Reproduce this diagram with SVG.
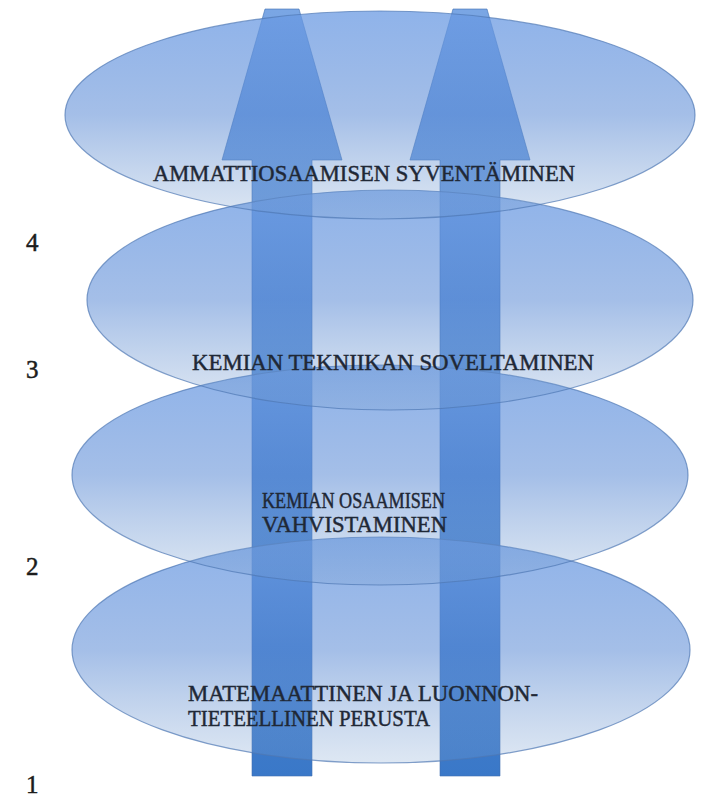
<svg xmlns="http://www.w3.org/2000/svg" width="710" height="797" viewBox="0 0 710 797">
<defs>
<linearGradient id="ellG" x1="0" y1="0" x2="0" y2="1">
<stop offset="0" stop-color="#6a9ae3" stop-opacity="0.75"/>
<stop offset="0.5" stop-color="#5a8ad5" stop-opacity="0.55"/>
<stop offset="1" stop-color="#7aa0d0" stop-opacity="0.25"/>
</linearGradient>
<linearGradient id="arrG" gradientUnits="userSpaceOnUse" x1="0" y1="9" x2="0" y2="776">
<stop offset="0" stop-color="#7aa6e4"/>
<stop offset="1" stop-color="#3a78c8"/>
</linearGradient>
</defs>
<style>
.ell{fill:url(#ellG);stroke:#4f78b4;stroke-opacity:0.7;stroke-width:1.2}
.arr{fill:url(#arrG);stroke:#3f6fb0;stroke-opacity:0.6;stroke-width:1}
.lbl{font-family:"Liberation Serif",serif;font-size:23px;fill:#1f2836;stroke:#1f2836;stroke-width:0.45}
.num{font-family:"Liberation Serif",serif;font-size:25px;fill:#1c1c1c;stroke:#1c1c1c;stroke-width:0.5}
</style>
<rect width="710" height="797" fill="#ffffff"/>
<g id="connectors">
<polygon class="arr" points="265,9 299,9 342,160 312,160 312,776 252,776 252,160 222,160"/>
<polygon class="arr" points="453,9 487,9 530,160 500,160 500,776 440,776 440,160 410,160"/>
</g>
<g id="node4">
<ellipse class="ell" cx="381" cy="650" rx="309" ry="113"/>
<text class="lbl" x="188" y="701" textLength="350" lengthAdjust="spacingAndGlyphs">MATEMAATTINEN JA LUONNON-</text>
<text class="lbl" x="188" y="726" textLength="242" lengthAdjust="spacingAndGlyphs">TIETEELLINEN PERUSTA</text>
</g>
<g id="node3">
<ellipse class="ell" cx="380" cy="475" rx="308" ry="110"/>
<text class="lbl" x="262" y="508" textLength="183" lengthAdjust="spacingAndGlyphs">KEMIAN OSAAMISEN</text>
<text class="lbl" x="262" y="532" textLength="185" lengthAdjust="spacingAndGlyphs">VAHVISTAMINEN</text>
</g>
<g id="node2">
<ellipse class="ell" cx="390" cy="300" rx="303" ry="110"/>
<text class="lbl" x="192" y="370" textLength="402" lengthAdjust="spacingAndGlyphs">KEMIAN TEKNIIKAN SOVELTAMINEN</text>
</g>
<g id="node1">
<ellipse class="ell" cx="380" cy="115" rx="315" ry="104"/>
<text class="lbl" x="153" y="181" textLength="422" lengthAdjust="spacingAndGlyphs">AMMATTIOSAAMISEN SYVENTÄMINEN</text>
</g>
<g id="levels">
<text class="num" x="26" y="251">4</text>
<text class="num" x="26" y="378">3</text>
<text class="num" x="26" y="575">2</text>
<text class="num" x="26" y="793">1</text>
</g>
</svg>
